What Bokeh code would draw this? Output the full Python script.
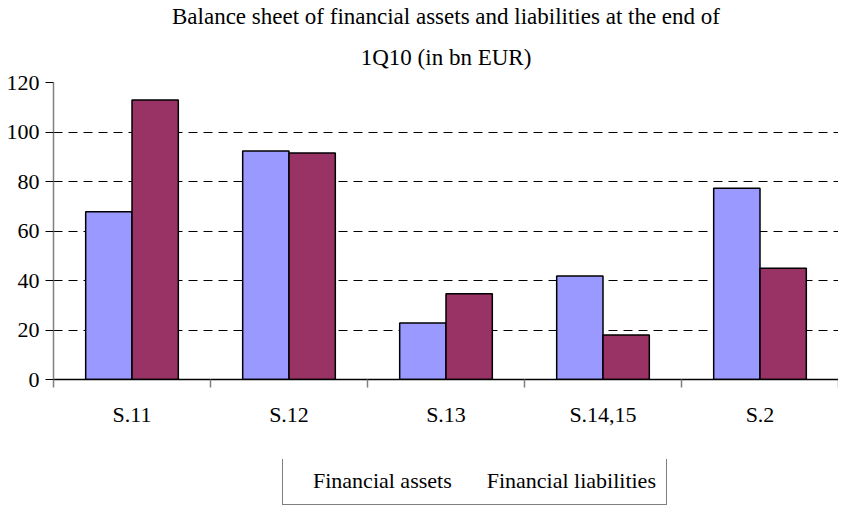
from bokeh.plotting import figure
from bokeh.layouts import column
from bokeh.models import (Range1d, LinearAxis, FixedTicker,
                          Legend, LegendItem, Title, ColumnDataSource)
from bokeh.transform import dodge
from bokeh.embed import file_html
from bokeh.resources import INLINE

categories = ["S.11", "S.12", "S.13", "S.14,15", "S.2"]
financial_assets = [67.8, 92.3, 22.8, 41.8, 77.3]
financial_liabilities = [112.9, 91.5, 34.6, 18.0, 45.0]
y_ticks = [0, 20, 40, 60, 80, 100, 120]
title_line1 = "Balance sheet of financial assets and liabilities at the end of"
title_line2 = "1Q10 (in bn EUR)"
series_labels = ["Financial assets", "Financial liabilities"]
series_colors = ["#9999FF", "#993366"]

FONT = "Liberation Serif"

n = len(categories)
positions = list(range(1, n + 1))
boundaries = [i + 0.5 for i in range(n + 1)]
src = ColumnDataSource(dict(x=positions, cat=categories, assets=financial_assets, liab=financial_liabilities))

p = figure(width=838, height=459, output_backend="svg", toolbar_location=None,
           x_range=Range1d(0.5, n + 0.5), y_range=Range1d(0, 120),
           x_axis_location=None, y_axis_location=None,
           frame_width=785,
           min_border_left=53, min_border_right=0, min_border_top=0, min_border_bottom=80)
p.outline_line_color = None
p.background_fill_color = "white"
p.border_fill_color = "white"

p.vbar(x=dodge("x", -0.1475), top="assets", width=0.295, source=src,
       fill_color=series_colors[0], line_color="black", line_width=1.5)
p.vbar(x=dodge("x", 0.1475), top="liab", width=0.295, source=src,
       fill_color=series_colors[1], line_color="black", line_width=1.5)

# y axis
yax = LinearAxis(ticker=FixedTicker(ticks=y_ticks))
yax.axis_line_color = "#808080"
yax.axis_line_width = 1.5
yax.major_tick_line_color = "black"
yax.major_tick_out = 8
yax.major_tick_in = 0
yax.minor_tick_line_color = None
yax.major_label_text_font = FONT
yax.major_label_text_font_size = "22px"
yax.major_label_text_color = "black"
yax.major_label_standoff = 6
p.add_layout(yax, "left")

# x axis: labels at category centres, tick marks between categories
cax = LinearAxis(ticker=FixedTicker(ticks=positions, minor_ticks=boundaries))
cax.major_label_overrides = {pos: cat for pos, cat in zip(positions, categories)}
cax.axis_line_color = "black"
cax.axis_line_width = 1.5
cax.major_tick_line_color = None
cax.major_tick_out = 0
cax.major_tick_in = 0
cax.minor_tick_line_color = "#808080"
cax.minor_tick_line_width = 1.5
cax.minor_tick_out = 8
cax.minor_tick_in = 0
cax.major_label_text_font = FONT
cax.major_label_text_font_size = "22px"
cax.major_label_text_color = "black"
cax.major_label_standoff = 14
p.add_layout(cax, "below")

p.ygrid.grid_line_color = "black"
p.ygrid.grid_line_dash = "9 6"
p.ygrid.grid_line_width = 1
p.xgrid.grid_line_color = None
p.ygrid.ticker = FixedTicker(ticks=y_ticks)

# titles
t2 = Title(text=title_line2, align="center", text_font=FONT, text_font_size="23px",
           text_font_style="normal", text_color="black", standoff=26)
t1 = Title(text=title_line1, align="center", text_font=FONT, text_font_size="23px",
           text_font_style="normal", text_color="black", standoff=2)
p.title = None
p.add_layout(t2, "above")
p.add_layout(t1, "above")

# legend strip (separate figure so the legend box is not clipped)
p2 = figure(width=838, height=46, output_backend="svg", toolbar_location=None,
            x_axis_location=None, y_axis_location=None,
            min_border_left=0, min_border_right=0, min_border_top=0, min_border_bottom=0)
p2.outline_line_color = None
p2.grid.visible = False
p2.background_fill_color = "white"
p2.border_fill_color = "white"
empty = ColumnDataSource(dict(x=[], top=[]))
lr1 = p2.vbar(x="x", top="top", width=0.3, source=empty,
              fill_color=series_colors[0], line_color="black", line_width=1.5)
lr2 = p2.vbar(x="x", top="top", width=0.3, source=empty,
              fill_color=series_colors[1], line_color="black", line_width=1.5)

legend = Legend(items=[LegendItem(label=series_labels[0], renderers=[lr1]),
                       LegendItem(label=series_labels[1], renderers=[lr2])],
                orientation="horizontal", location=(229, 0))
legend.label_text_font = FONT
legend.label_text_font_size = "22px"
legend.label_text_color = "black"
legend.glyph_width = 13
legend.glyph_height = 13
legend.label_standoff = 7
legend.spacing = 15
legend.padding = 10
legend.margin = 0
legend.border_line_color = "black"
legend.border_line_width = 1
legend.background_fill_alpha = 1
p2.add_layout(legend, "center")

layout = column(p, p2, spacing=0)
open("out.html", "w").write(file_html(layout, INLINE))
